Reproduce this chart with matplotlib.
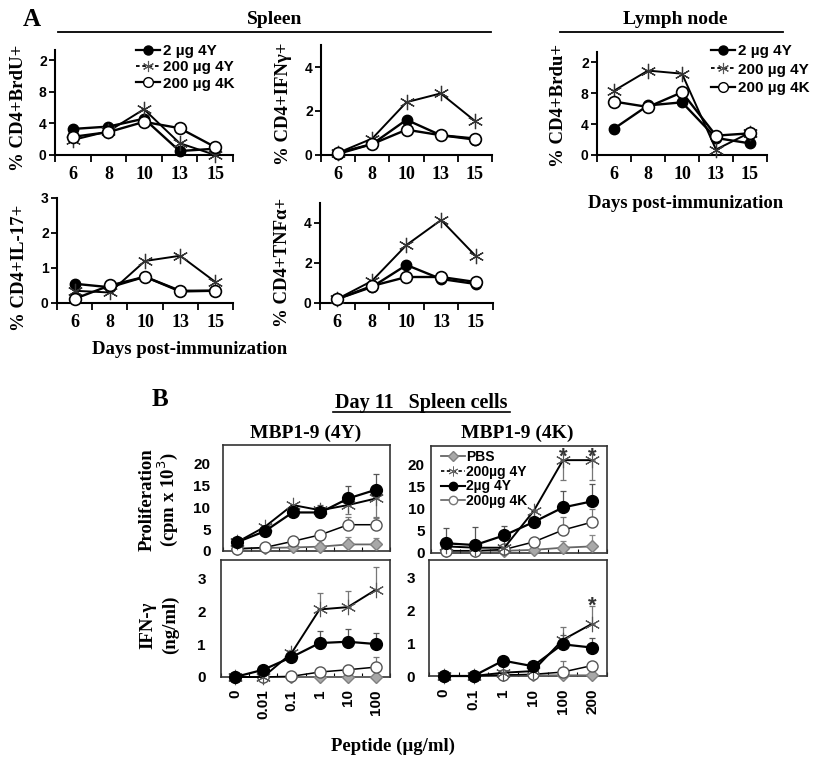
import matplotlib
matplotlib.use("Agg")
import matplotlib.pyplot as plt
from matplotlib.lines import Line2D

SERIF = "Liberation Serif"
SANS = "Liberation Sans"
W, H = 829, 758

# ---- Panel A data (days post-immunization) ----
days = ["6", "8", "10", "13", "15"]
a_series = ["2 \u00b5g 4Y", "200 \u00b5g 4Y", "200 \u00b5g 4K"]

brdu_2_4y = [3.3, 3.6, 4.6, 0.5, 0.8]
brdu_200_4y = [1.9, 3.0, 5.8, 1.5, 0.0]
brdu_200_4k = [2.3, 2.9, 4.2, 3.4, 1.0]

ifn_2_4y = [0.05, 0.5, 1.6, 0.9, 0.7]
ifn_200_4y = [0.1, 0.75, 2.4, 2.8, 1.55]
ifn_200_4k = [0.1, 0.5, 1.15, 0.9, 0.75]

il17_2_4y = [0.55, 0.45, 0.75, 0.35, 0.35]
il17_200_4y = [0.35, 0.3, 1.2, 1.35, 0.6]
il17_200_4k = [0.12, 0.5, 0.75, 0.33, 0.35]

tnf_2_4y = [0.2, 0.8, 1.9, 1.2, 0.95]
tnf_200_4y = [0.2, 1.1, 2.9, 4.15, 2.35]
tnf_200_4k = [0.2, 0.85, 1.3, 1.3, 1.05]

ln_2_4y = [3.4, 6.4, 6.8, 2.2, 1.5]
ln_200_4y = [8.3, 10.9, 10.5, 0.7, 2.9]
ln_200_4k = [6.9, 6.2, 8.1, 2.5, 2.8]

# ---- Panel B data (day 11 spleen cells) ----
b_series = ["PBS", "200\u00b5g 4Y", "2\u00b5g 4Y", "200\u00b5g 4K"]
dose_4y = ["0", "0.01", "0.1", "1", "10", "100"]
dose_4k = ["0", "0.1", "1", "10", "100", "200"]

prol4y_pbs = [0.5, 0.7, 0.8, 1.0, 1.5, 1.5]
prol4y_pbs_err = [0.3, 0.3, 0.5, 0.8, 1.8, 1.5]
prol4y_200_4y = [2.0, 5.5, 10.5, 9.3, 10.5, 12.0]
prol4y_200_4y_err = [0.3, 0.5, 0.8, 1.5, 2.0, 4.5]
prol4y_2_4y = [2.0, 4.5, 8.8, 8.8, 12.0, 14.0]
prol4y_2_4y_err = [0.3, 0.5, 0.8, 1.8, 2.8, 3.5]
prol4y_200_4k = [0.5, 0.8, 2.2, 3.7, 6.0, 6.0]
prol4y_200_4k_err = [0.2, 0.3, 0.5, 0.8, 1.8, 1.8]

ifn4y_pbs = [0.0, 0.0, 0.0, 0.0, 0.0, 0.0]
ifn4y_200_4y = [0.0, 0.0, 0.72, 2.05, 2.12, 2.65]
ifn4y_200_4y_err = [0.0, 0.0, 0.1, 0.5, 0.5, 0.7]
ifn4y_2_4y = [0.0, 0.22, 0.6, 1.03, 1.07, 1.0]
ifn4y_2_4y_err = [0.0, 0.05, 0.1, 0.37, 0.4, 0.33]
ifn4y_200_4k = [0.0, 0.0, 0.02, 0.15, 0.22, 0.3]
ifn4y_200_4k_err = [0.0, 0.0, 0.05, 0.1, 0.15, 0.3]

prol4k_pbs = [0.5, 0.5, 0.5, 0.7, 1.2, 1.5]
prol4k_pbs_err = [0.3, 0.3, 0.3, 0.8, 1.5, 2.5]
prol4k_200_4y = [1.5, 1.2, 1.2, 9.5, 21.0, 21.0]
prol4k_200_4y_err = [0.0, 0.0, 0.0, 0.0, 4.5, 4.5]
prol4k_2_4y = [2.2, 1.8, 4.0, 7.0, 10.3, 11.7]
prol4k_2_4y_err = [3.5, 4.0, 2.0, 2.5, 3.8, 4.0]
prol4k_200_4k = [0.5, 0.5, 0.8, 2.5, 5.2, 7.0]
prol4k_200_4k_err = [0.3, 0.3, 0.3, 1.0, 3.0, 3.0]

ifn4k_pbs = [0.0, 0.0, 0.02, 0.02, 0.02, 0.02]
ifn4k_200_4y = [0.0, 0.0, 0.1, 0.15, 1.1, 1.6]
ifn4k_200_4y_err = [0.0, 0.0, 0.0, 0.0, 0.4, 0.55]
ifn4k_2_4y = [0.0, 0.0, 0.47, 0.3, 0.97, 0.87]
ifn4k_2_4y_err = [0.0, 0.0, 0.05, 0.05, 0.3, 0.3]
ifn4k_200_4k = [0.0, 0.0, 0.03, 0.05, 0.12, 0.32]
ifn4k_200_4k_err = [0.0, 0.0, 0.0, 0.0, 0.35, 0.1]

STAR = (6, 2, 0)

fig = plt.figure(figsize=(W / 100, H / 100), dpi=100)
fig.patch.set_facecolor("white")


def px_axes(l, t, r, b):
    return fig.add_axes([l / W, 1 - b / H, (r - l) / W, (b - t) / H])


def fx(x):
    return x / W


def fy(y):
    return 1 - y / H


# ---------------- Panel A ----------------
def panel_a(ax, s_2, s_200y, s_200k, ymax, yticks, ylabels):
    x = list(range(len(days)))
    ax.plot(x, s_2, color="black", lw=1.7, marker="o", ms=7.5, mfc="black",
            mec="black", clip_on=False, zorder=3)
    ax.plot(x, s_200y, color="black", lw=1.4, marker=STAR, ms=11, mew=0.9,
            mec="#333333", clip_on=False, zorder=4)
    ax.plot(x, s_200k, color="black", lw=1.7, marker="o", ms=8.5, mfc="white",
            mec="black", mew=1.2, clip_on=False, zorder=5)
    ax.set_xlim(-0.5, len(days) - 0.5)
    ax.set_ylim(0, ymax)
    for s in ["top", "right"]:
        ax.spines[s].set_visible(False)
    for s in ["left", "bottom"]:
        ax.spines[s].set_linewidth(1.5)
    ax.set_xticks(x)
    ax.set_xticklabels(days, fontfamily=SERIF, fontweight="bold", fontsize=13)
    ax.set_xticks([i - 0.5 for i in range(len(days) + 1)], minor=True)
    ax.tick_params(axis="x", which="major", length=0, pad=8)
    ax.tick_params(axis="x", which="minor", length=5, width=1.3, direction="out")
    ax.set_yticks(yticks)
    ax.set_yticklabels(ylabels, fontfamily=SANS, fontweight="bold", fontsize=10)
    ax.tick_params(axis="y", length=4, width=1.3, pad=2)
    ax.set_facecolor("none")


a1 = px_axes(55, 50, 233, 155)
panel_a(a1, brdu_2_4y, brdu_200_4y, brdu_200_4k, 13.3, [0, 4, 8, 12], ["0", "4", "8", "2"])
a2 = px_axes(321, 45, 492, 155)
panel_a(a2, ifn_2_4y, ifn_200_4y, ifn_200_4k, 5, [0, 2, 4], ["0", "2", "4"])
a3 = px_axes(57, 198, 233, 303)
panel_a(a3, il17_2_4y, il17_200_4y, il17_200_4k, 3, [0, 1, 2, 3], ["0", "1", "2", "3"])
a4 = px_axes(320, 203, 493, 303)
panel_a(a4, tnf_2_4y, tnf_200_4y, tnf_200_4k, 5, [0, 2, 4], ["0", "2", "4"])
a5 = px_axes(597, 52, 767, 155)
panel_a(a5, ln_2_4y, ln_200_4y, ln_200_4k, 13.3, [0, 4, 8, 12], ["0", "4", "8", "2"])

a_handles = [
    Line2D([], [], color="black", lw=1.6, marker="o", ms=6.5, mfc="black"),
    Line2D([], [], color="black", lw=1.3, ls=(0, (2, 1.5)), marker=STAR, ms=8, mew=0.8, mec="#555555"),
    Line2D([], [], color="black", lw=1.6, marker="o", ms=7, mfc="white", mew=1.0),
]
for lx, sp in [(136, 0.15), (711, 0.3)]:
    fig.legend(a_handles, a_series, loc="upper left", bbox_to_anchor=(fx(lx), fy(44)),
               frameon=False, borderpad=0, borderaxespad=0, handlelength=1.6,
               handletextpad=0.2, labelspacing=sp,
               prop={"family": SANS, "weight": "bold", "size": 11})

ylab = dict(fontfamily=SERIF, fontweight="bold", fontsize=13.5, rotation=90,
            ha="center", va="center")
fig.text(fx(19), fy(108), "% CD4+BrdU+", **ylab)
fig.text(fx(284), fy(104), "% CD4+IFN\u03b3+", **ylab)
fig.text(fx(20), fy(268), "% CD4+IL-17+", **ylab)
fig.text(fx(283), fy(262), "% CD4+TNF\u03b1+", **ylab)
fig.text(fx(559), fy(105), "% CD4+Brdu+", **ylab)

title = dict(fontfamily=SERIF, fontweight="bold", ha="center", va="center")
fig.text(fx(32), fy(20), "A", fontsize=18, **title)
fig.text(fx(275), fy(20), "Spleen", fontsize=14, **title)
fig.text(fx(675), fy(19), "Lymph node", fontsize=14, **title)
fig.add_artist(Line2D([fx(58), fx(491)], [fy(31.5), fy(31.5)], color="black", lw=1.3))
fig.add_artist(Line2D([fx(560), fx(783)], [fy(31.5), fy(31.5)], color="black", lw=1.3))
fig.text(fx(190), fy(350), "Days post-immunization", fontsize=13.5, **title)
fig.text(fx(686), fy(204), "Days post-immunization", fontsize=13.5, **title)


# ---------------- Panel B ----------------
def panel_b(ax, labels, pbs, pbs_err, s200y, s200y_err, s2, s2_err, s200k, s200k_err,
            ymax, yticks, ypad, show_x, star_down=False):
    x = list(range(len(labels)))
    zeros = [0] * len(x)
    ax.errorbar(x, s2, yerr=[zeros, s2_err], fmt="none", ecolor="#555555", elinewidth=0.9,
                capsize=2.5, capthick=0.9, zorder=2, clip_on=False)
    if star_down:
        ax.errorbar(x, s200y, yerr=[s200y_err, zeros], fmt="none", ecolor="#777777",
                    elinewidth=0.9, capsize=2.5, capthick=0.9, zorder=2, clip_on=False)
    else:
        ax.errorbar(x, s200y, yerr=[zeros, s200y_err], fmt="none", ecolor="#777777",
                    elinewidth=0.9, capsize=2.5, capthick=0.9, zorder=2, clip_on=False)
    ax.errorbar(x, s200k, yerr=[zeros, s200k_err], fmt="none", ecolor="#777777",
                elinewidth=0.9, capsize=2.5, capthick=0.9, zorder=2, clip_on=False)
    if pbs_err is not None:
        ax.errorbar(x, pbs, yerr=[zeros, pbs_err], fmt="none", ecolor="#888888",
                    elinewidth=0.9, capsize=2.5, capthick=0.9, zorder=2, clip_on=False)
    ax.plot(x, pbs, color="#666666", lw=1.3, marker="D", ms=6.5, mfc="#a8a8a8",
            mec="#808080", clip_on=False, zorder=3)
    ax.plot(x, s200k, color="black", lw=1.1, marker="o", ms=8, mfc="white",
            mec="#555555", mew=1.0, clip_on=False, zorder=4)
    ax.plot(x, s200y, color="black", lw=1.4, marker=STAR, ms=11, mew=0.8,
            mec="#555555", clip_on=False, zorder=5)
    ax.plot(x, s2, color="black", lw=1.6, marker="o", ms=8.5, mfc="black",
            mec="black", clip_on=False, zorder=6)
    ax.set_xlim(-0.5, len(labels) - 0.5)
    ax.set_ylim(0, ymax)
    for s in ax.spines.values():
        s.set_linewidth(1.2)
        s.set_color("#333333")
    ax.set_xticks(x)
    if show_x:
        ax.set_xticklabels(labels, rotation=90, fontfamily=SANS, fontweight="bold", fontsize=11)
    else:
        ax.set_xticklabels([])
    ax.set_xticks([i - 0.5 for i in range(len(labels) + 1)], minor=True)
    ax.tick_params(axis="x", which="major", length=0, pad=9)
    ax.tick_params(axis="x", which="minor", length=3, width=0.8, direction="in")
    ax.set_yticks(yticks)
    ax.set_yticklabels([str(v) for v in yticks], fontfamily=SANS, fontweight="bold", fontsize=11)
    ax.tick_params(axis="y", length=0, pad=ypad)


b1 = px_axes(223, 445, 390, 551)
panel_b(b1, dose_4y, prol4y_pbs, prol4y_pbs_err, prol4y_200_4y, prol4y_200_4y_err,
        prol4y_2_4y, prol4y_2_4y_err, prol4y_200_4k, prol4y_200_4k_err,
        24.2, [0, 5, 10, 15, 20], 9, False, star_down=True)
b2 = px_axes(221, 560, 390, 677)
panel_b(b2, dose_4y, ifn4y_pbs, None, ifn4y_200_4y, ifn4y_200_4y_err,
        ifn4y_2_4y, ifn4y_2_4y_err, ifn4y_200_4k, ifn4y_200_4k_err,
        3.55, [0, 1, 2, 3], 11, True)
b3 = px_axes(431, 446, 607, 553)
panel_b(b3, dose_4k, prol4k_pbs, prol4k_pbs_err, prol4k_200_4y, prol4k_200_4y_err,
        prol4k_2_4y, prol4k_2_4y_err, prol4k_200_4k, prol4k_200_4k_err,
        24.2, [0, 5, 10, 15, 20], 4.5, False, star_down=True)
b4 = px_axes(429, 560, 607, 676)
panel_b(b4, dose_4k, ifn4k_pbs, None, ifn4k_200_4y, ifn4k_200_4y_err,
        ifn4k_2_4y, ifn4k_2_4y_err, ifn4k_200_4k, ifn4k_200_4k_err,
        3.55, [0, 1, 2, 3], 10, True)

# significance asterisks
for xi in [4, 5]:
    b3.text(xi, 21.6, "*", ha="center", va="center", fontsize=16,
            fontfamily=SANS, fontweight="bold", color="#333333", clip_on=False)
b4.text(5, 2.15, "*", ha="center", va="center",
        fontsize=16, fontfamily=SANS, fontweight="bold", color="#333333", clip_on=False)

b_handles = [
    Line2D([], [], color="#666666", lw=1.3, marker="D", ms=5.5, mfc="#a8a8a8", mec="#808080"),
    Line2D([], [], color="black", lw=1.2, ls=(0, (2, 1.5)), marker=STAR, ms=7, mew=0.7, mec="#666666"),
    Line2D([], [], color="black", lw=1.5, marker="o", ms=6, mfc="black"),
    Line2D([], [], color="#555555", lw=1.1, marker="o", ms=6, mfc="white", mec="#777777"),
]
fig.legend(b_handles, b_series, loc="upper left", bbox_to_anchor=(fx(441), fy(450)),
           frameon=False, borderpad=0, borderaxespad=0, handlelength=1.7,
           handletextpad=0.1, labelspacing=0.05,
           prop={"family": SANS, "weight": "bold", "size": 10})

fig.text(fx(160), fy(400), "B", fontsize=18, **title)
fig.text(fx(421), fy(403), "Day 11   Spleen cells", fontsize=14.5, **title)
fig.add_artist(Line2D([fx(333), fx(510)], [fy(412), fy(412)], color="black", lw=1.2))
fig.text(fx(306), fy(433), "MBP1-9 (4Y)", fontsize=14, **title)
fig.text(fx(517), fy(433), "MBP1-9 (4K)", fontsize=14, **title)
fig.text(fx(147), fy(500), "Proliferation", **ylab)
fig.text(fx(168), fy(500), "(cpm x 10$^{3}$)", **ylab)
fig.text(fx(148), fy(625), "IFN-\u03b3", **ylab)
fig.text(fx(170), fy(625), "(ng/ml)", **ylab)
fig.text(fx(393), fy(746), "Peptide (\u00b5g/ml)", fontsize=13.5, **title)

fig.savefig("out.png", dpi=100)
